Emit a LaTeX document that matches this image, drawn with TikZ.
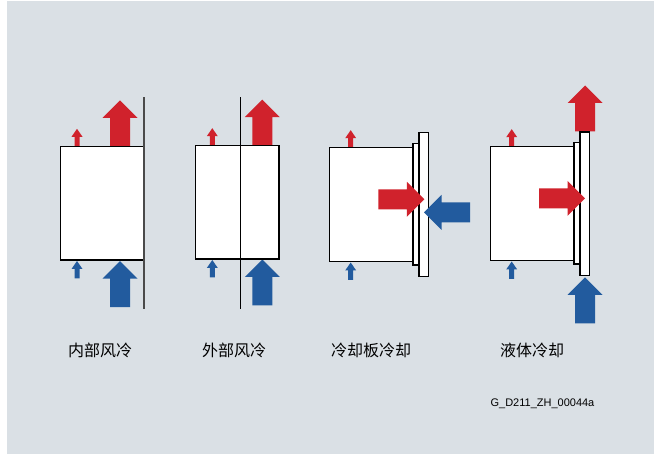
\documentclass[tikz,border=0pt]{standalone}
\usepackage{fontspec}
\setmainfont{Liberation Sans}
\newfontfamily\cjk{Noto Sans CJK SC}
\definecolor{backgray}{HTML}{DAE0E5}
\definecolor{flowred}{HTML}{D0222C}
\definecolor{flowblue}{HTML}{225B9E}
\definecolor{wallgray}{HTML}{4A4A4A}
\begin{document}
\begin{tikzpicture}[x=1pt,y=-1pt,
  unit/.style={draw=black,fill=white,line width=1.2pt},
  wall/.style={line width=1.6pt},
  caption/.style={font=\cjk\fontsize{16}{18}\selectfont},
  bigflow/.pic={\path[pic actions] (0,-10) -- (28.5,-10) -- (28.5,-17.5) -- (46,0) -- (28.5,17.5) -- (28.5,10) -- (0,10) -- cycle;},
  smallflow/.pic={\path[pic actions] (0,-2.5) -- (9.5,-2.5) -- (9.5,-5.5) -- (17.5,0) -- (9.5,5.5) -- (9.5,2.5) -- (0,2.5) -- cycle;}]

\fill[white] (0,0) rectangle (654,454);
\fill[backgray] (7,1) rectangle (654,454);

\begin{scope}
\pic[rotate=90,fill=flowred] at (77,146.3) {smallflow};
\pic[rotate=90,fill=flowblue] at (77,278.5) {smallflow};
\pic[rotate=90,fill=flowred] at (120,146.3) {bigflow};
\pic[rotate=90,fill=flowblue] at (120,307.2) {bigflow};
\draw[unit] (60.7,146.3) rectangle (144,260);
\draw[wall,wallgray] (144,97.3) -- (144,308.7);
\node[caption] (inner) at (100,350) {内部风冷};
\end{scope}

\begin{scope}
\pic[rotate=90,fill=flowred] at (212.3,145.7) {smallflow};
\pic[rotate=90,fill=flowblue] at (212.3,277.5) {smallflow};
\pic[rotate=90,fill=flowred] at (262.3,145.7) {bigflow};
\pic[rotate=90,fill=flowblue] at (262.3,305.5) {bigflow};
\draw[unit] (195.7,145.7) rectangle (279,259);
\draw[wall,black,line width=1.3pt] (240.3,97.3) -- (240.3,308.7);
\node[caption] (outer) at (234,350) {外部风冷};
\end{scope}

\begin{scope}
\pic[rotate=90,fill=flowred] at (350.7,147.7) {smallflow};
\pic[rotate=90,fill=flowblue] at (350.7,280) {smallflow};
\draw[unit] (329.3,147.7) rectangle (413,261.3);
\draw[unit] (413,143.3) rectangle (419,265);
\draw[unit] (419,132.3) rectangle (428.3,276.7);
\pic[fill=flowred] at (378.3,199.3) {bigflow};
\pic[rotate=180,fill=flowblue] at (470,212.3) {bigflow};
\node[caption] (plate) at (371,350) {冷却板冷却};
\end{scope}

\begin{scope}
\pic[rotate=90,fill=flowred] at (511.7,146.7) {smallflow};
\pic[rotate=90,fill=flowblue] at (511.7,279) {smallflow};
\pic[rotate=90,fill=flowred] at (585,131.5) {bigflow};
\pic[rotate=90,fill=flowblue] at (585,323.3) {bigflow};
\draw[unit] (490.3,146.7) rectangle (574,260.3);
\draw[unit] (574,142.7) rectangle (580,264);
\draw[unit] (580,132) rectangle (589.3,275.7);
\pic[fill=flowred] at (539,198.3) {bigflow};
\node[caption] (liquid) at (532,350) {液体冷却};
\end{scope}

\node[font=\fontsize{11}{13}\selectfont] (code) at (542.5,404) {G\_D211\_ZH\_00044a};

\end{tikzpicture}
\end{document}
